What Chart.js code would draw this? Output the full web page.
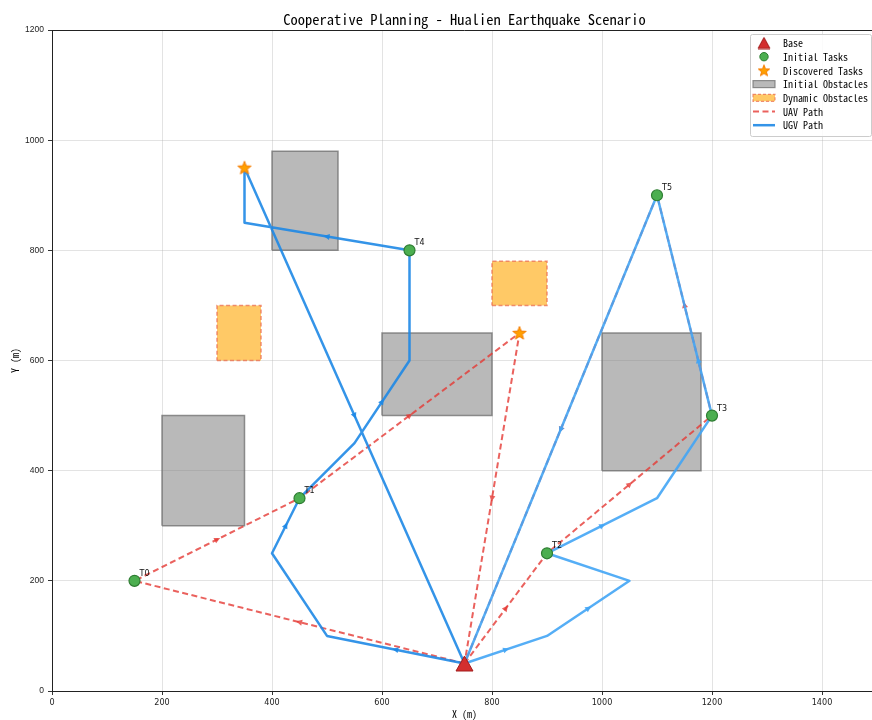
<!DOCTYPE html>
<html>
<head>
<meta charset="utf-8">
<script src="https://cdn.jsdelivr.net/npm/chart.js@4.4.1/dist/chart.umd.min.js"></script>
<style>
  html, body { margin: 0; padding: 0; overflow: hidden; background: #fff; }
  canvas { display: block; }
</style>
</head>
<body>
<!-- the plot frame runs a few pixels past the visible page edge -->
<canvas id="plan" width="877" height="720"></canvas>
<script>
// ---- scenario data (metres) ----
const X_MAX = 1500;
const Y_MAX = 1200;
const TICK_STEP = 200;

const BASE_X = [750];
const BASE_Y = [50];

const TASK_NAMES = ['T0', 'T1', 'T2', 'T3', 'T4', 'T5'];
const TASK_X = [150, 450, 900, 1200, 650, 1100];
const TASK_Y = [200, 350, 250, 500, 800, 900];

const FOUND_X = [350, 850];
const FOUND_Y = [950, 650];

// static obstacles: x range and y range
const OBST_X0 = [200, 400, 600, 1000];
const OBST_X1 = [350, 520, 800, 1180];
const OBST_Y0 = [300, 800, 500, 400];
const OBST_Y1 = [500, 980, 650, 650];

// obstacles that appeared during the mission
const DYN_X0 = [300, 800];
const DYN_X1 = [380, 900];
const DYN_Y0 = [600, 700];
const DYN_Y1 = [700, 780];

// aerial routes
const UAV1_X = [750, 150, 450, 850, 750];
const UAV1_Y = [50, 200, 350, 650, 50];
const UAV2_X = [750, 900, 1200, 1100, 750];
const UAV2_Y = [50, 250, 500, 900, 50];

// ground routes
const UGV1_X = [750, 500, 400, 450, 550, 650, 650, 350, 350, 750];
const UGV1_Y = [50, 100, 250, 350, 450, 600, 800, 850, 950, 50];
const UGV2_X = [750, 900, 1050, 900, 1100, 1200, 1100, 750];
const UGV2_Y = [50, 100, 200, 250, 350, 500, 900, 50];

// direction arrows: segment index and fraction along it
const UAV1_ARROW_SEG = [0, 1, 2, 3];
const UAV1_ARROW_T = [0.5, 0.5, 0.5, 0.5];
const UAV2_ARROW_SEG = [0, 1, 2, 3];
const UAV2_ARROW_T = [0.5, 0.5, 0.5, 0.5];
const UGV1_ARROW_SEG = [0, 2, 4, 6, 8];
const UGV1_ARROW_T = [0.5, 0.5, 0.5, 0.5, 0.5];
const UGV2_ARROW_SEG = [0, 1, 3, 5, 6];
const UGV2_ARROW_T = [0.5, 0.5, 0.5, 0.25, 0.5];

// ---- styles ----
const MONO = '"Noto Sans Mono CJK SC", "DejaVu Sans Mono", monospace';
const C_UAV = 'rgba(229, 57, 53, 0.8)';
const C_UGV1 = 'rgba(30, 136, 229, 0.9)';
const C_UGV2 = 'rgba(66, 165, 245, 0.9)';
const C_OBST_FILL = 'rgba(128, 128, 128, 0.55)';
const C_OBST_EDGE = 'rgba(110, 110, 110, 0.75)';
const C_DYN_FILL = 'rgba(255, 165, 0, 0.6)';
const C_DYN_EDGE = 'rgba(235, 110, 80, 0.75)';
const UAV_DASH = [6, 3.5];
const DYN_DASH = [4, 2.5];

function toPoints(xs, ys) { return xs.map((x, i) => ({ x: x, y: ys[i] })); }
function boxPoints(x0, x1, y0, y1) {
  return [{ x: x0, y: y0 }, { x: x1, y: y0 }, { x: x1, y: y1 }, { x: x0, y: y1 }, { x: x0, y: y0 }];
}

// marker images
function starImage(size, fill, stroke) {
  const c = document.createElement('canvas');
  c.width = c.height = size;
  const g = c.getContext('2d');
  const cx = size / 2, cy = size / 2 + 0.5, R = size / 2 - 1, r = R * 0.42;
  g.beginPath();
  for (let i = 0; i < 10; i++) {
    const a = -Math.PI / 2 + i * Math.PI / 5;
    const rr = i % 2 ? r : R;
    g.lineTo(cx + rr * Math.cos(a), cy + rr * Math.sin(a));
  }
  g.closePath();
  g.fillStyle = fill; g.fill();
  g.lineWidth = 1; g.strokeStyle = stroke; g.stroke();
  return c;
}
function triangleImage(w, h, fill, stroke) {
  const c = document.createElement('canvas');
  c.width = w + 2; c.height = h + 2;
  const g = c.getContext('2d');
  g.beginPath();
  g.moveTo(1 + w / 2, 1);
  g.lineTo(1 + w, 1 + h);
  g.lineTo(1, 1 + h);
  g.closePath();
  g.fillStyle = fill; g.fill();
  g.lineWidth = 1; g.strokeStyle = stroke; g.stroke();
  return c;
}
const STAR_IMG = starImage(16, '#ffa000', '#f57c00');
const TRI_IMG = triangleImage(17, 15, '#d32f2f', '#a31c1c');
const STAR_SMALL = starImage(14, '#ffa000', '#f57c00');
const TRI_SMALL = triangleImage(12, 11, '#d32f2f', '#a31c1c');

// ---- datasets ----
const datasets = [];
OBST_X0.forEach((x0, i) => {
  datasets.push({
    label: 'Initial Obstacles', kind: 'obst',
    data: boxPoints(x0, OBST_X1[i], OBST_Y0[i], OBST_Y1[i]),
    borderColor: C_OBST_EDGE, backgroundColor: C_OBST_FILL, borderWidth: 1.5,
    fill: 'shape', pointRadius: 0, order: 20
  });
});
DYN_X0.forEach((x0, i) => {
  datasets.push({
    label: 'Dynamic Obstacles', kind: 'dyn',
    data: boxPoints(x0, DYN_X1[i], DYN_Y0[i], DYN_Y1[i]),
    borderColor: C_DYN_EDGE, backgroundColor: C_DYN_FILL, borderWidth: 1.5,
    borderDash: DYN_DASH, fill: 'shape', pointRadius: 0, order: 19
  });
});
datasets.push({
  label: 'UAV Path', kind: 'uav', data: toPoints(UAV1_X, UAV1_Y),
  arrowSeg: UAV1_ARROW_SEG, arrowT: UAV1_ARROW_T,
  borderColor: C_UAV, borderWidth: 2, borderDash: UAV_DASH, pointRadius: 0, fill: false, order: 11
});
datasets.push({
  label: 'UAV Path', kind: 'uav2', data: toPoints(UAV2_X, UAV2_Y),
  arrowSeg: UAV2_ARROW_SEG, arrowT: UAV2_ARROW_T,
  borderColor: C_UAV, borderWidth: 2, borderDash: UAV_DASH, pointRadius: 0, fill: false, order: 10
});
datasets.push({
  label: 'UGV Path', kind: 'ugv', data: toPoints(UGV1_X, UGV1_Y),
  arrowSeg: UGV1_ARROW_SEG, arrowT: UGV1_ARROW_T,
  borderColor: C_UGV1, borderWidth: 2.5, pointRadius: 0, fill: false, order: 6,
  borderJoinStyle: 'round'
});
datasets.push({
  label: 'UGV Path', kind: 'ugv2', data: toPoints(UGV2_X, UGV2_Y),
  arrowSeg: UGV2_ARROW_SEG, arrowT: UGV2_ARROW_T,
  borderColor: C_UGV2, borderWidth: 2.5, pointRadius: 0, fill: false, order: 5,
  borderJoinStyle: 'round'
});
datasets.push({
  label: 'Base', kind: 'base', data: toPoints(BASE_X, BASE_Y), showLine: false,
  pointStyle: TRI_IMG, pointRadius: 9, order: 1
});
datasets.push({
  label: 'Initial Tasks', kind: 'task', data: toPoints(TASK_X, TASK_Y), showLine: false,
  pointStyle: 'circle', pointRadius: 5.5, pointBackgroundColor: '#4caf50',
  pointBorderColor: '#2e7d32', pointBorderWidth: 1.2, order: 2
});
datasets.push({
  label: 'Discovered Tasks', kind: 'found', data: toPoints(FOUND_X, FOUND_Y), showLine: false,
  pointStyle: STAR_IMG, pointRadius: 8, order: 2
});

// ---- plugins ----
const arrowPlugin = {
  id: 'pathArrows',
  afterDatasetDraw(chart, args) {
    const ds = chart.data.datasets[args.index];
    if (!ds.arrowSeg) return;
    const xs = chart.scales.x, ys = chart.scales.y, ctx = chart.ctx;
    ctx.save();
    ctx.beginPath();
    ctx.rect(chart.chartArea.left, chart.chartArea.top, chart.chartArea.width, chart.chartArea.height);
    ctx.clip();
    ctx.fillStyle = ds.borderColor;
    ds.arrowSeg.forEach((s, k) => {
      const a = ds.data[s], b = ds.data[s + 1], t = ds.arrowT[k];
      const ax = xs.getPixelForValue(a.x), ay = ys.getPixelForValue(a.y);
      const bx = xs.getPixelForValue(b.x), by = ys.getPixelForValue(b.y);
      const px = ax + (bx - ax) * t, py = ay + (by - ay) * t;
      const ang = Math.atan2(by - ay, bx - ax);
      ctx.save();
      ctx.translate(px, py);
      ctx.rotate(ang);
      ctx.beginPath();
      ctx.moveTo(3.5, 0);
      ctx.lineTo(-2.5, -3);
      ctx.lineTo(-2.5, 3);
      ctx.closePath();
      ctx.fill();
      ctx.restore();
    });
    ctx.restore();
  }
};

const decorPlugin = {
  id: 'decor',
  afterDraw(chart) {
    const ctx = chart.ctx, area = chart.chartArea;
    const xs = chart.scales.x, ys = chart.scales.y;
    ctx.save();
    // frame top
    ctx.strokeStyle = '#222';
    ctx.lineWidth = 1;
    ctx.beginPath();
    ctx.moveTo(area.left, Math.round(area.top) + 0.5);
    ctx.lineTo(area.right, Math.round(area.top) + 0.5);
    ctx.stroke();

    // task labels
    ctx.fillStyle = '#111';
    ctx.font = '8px "DejaVu Sans", sans-serif';
    ctx.textAlign = 'left';
    ctx.textBaseline = 'middle';
    TASK_NAMES.forEach((name, i) => {
      ctx.fillText(name, xs.getPixelForValue(TASK_X[i]) + 5, ys.getPixelForValue(TASK_Y[i]) - 7);
    });

    // title
    ctx.fillStyle = '#000';
    ctx.font = '14.5px ' + MONO;
    ctx.textAlign = 'center';
    ctx.fillText('Cooperative Planning - Hualien Earthquake Scenario', (area.left + area.right) / 2, 19);

    // legend
    const boxR = area.right - 6, boxT = area.top + 4, boxW = 121, boxH = 102;
    const boxL = boxR - boxW;
    ctx.fillStyle = 'rgba(255,255,255,0.85)';
    ctx.strokeStyle = '#cccccc';
    ctx.lineWidth = 1;
    ctx.beginPath();
    ctx.roundRect(boxL + 0.5, boxT + 0.5, boxW, boxH, 2);
    ctx.fill();
    ctx.stroke();

    const hx0 = boxL + 3, hx1 = boxL + 25, hxc = (hx0 + hx1) / 2, tx = boxL + 33;
    const rows = ['Base', 'Initial Tasks', 'Discovered Tasks', 'Initial Obstacles',
                  'Dynamic Obstacles', 'UAV Path', 'UGV Path'];
    rows.forEach((txt, i) => {
      const y = boxT + 9 + i * 13.7;
      ctx.save();
      if (i === 0) {
        ctx.drawImage(TRI_SMALL, hxc - TRI_SMALL.width / 2, y - TRI_SMALL.height / 2);
      } else if (i === 1) {
        ctx.beginPath();
        ctx.arc(hxc, y, 4.2, 0, Math.PI * 2);
        ctx.fillStyle = '#4caf50'; ctx.fill();
        ctx.strokeStyle = '#2e7d32'; ctx.lineWidth = 1; ctx.stroke();
      } else if (i === 2) {
        ctx.drawImage(STAR_SMALL, hxc - STAR_SMALL.width / 2, y - STAR_SMALL.height / 2);
      } else if (i === 3) {
        ctx.fillStyle = C_OBST_FILL; ctx.fillRect(hx0, y - 3.5, hx1 - hx0, 7);
        ctx.strokeStyle = C_OBST_EDGE; ctx.lineWidth = 1.2; ctx.strokeRect(hx0, y - 3.5, hx1 - hx0, 7);
      } else if (i === 4) {
        ctx.fillStyle = C_DYN_FILL; ctx.fillRect(hx0, y - 3.5, hx1 - hx0, 7);
        ctx.strokeStyle = C_DYN_EDGE; ctx.lineWidth = 1.2; ctx.setLineDash([3, 2]);
        ctx.strokeRect(hx0, y - 3.5, hx1 - hx0, 7);
      } else if (i === 5) {
        ctx.strokeStyle = C_UAV; ctx.lineWidth = 2; ctx.setLineDash([6, 3.5]);
        ctx.beginPath(); ctx.moveTo(hx0, y); ctx.lineTo(hx1, y); ctx.stroke();
      } else {
        ctx.strokeStyle = C_UGV1; ctx.lineWidth = 2.5;
        ctx.beginPath(); ctx.moveTo(hx0, y); ctx.lineTo(hx1, y); ctx.stroke();
      }
      ctx.restore();
      ctx.fillStyle = '#000';
      ctx.font = '10px ' + MONO;
      ctx.textAlign = 'left';
      ctx.textBaseline = 'middle';
      ctx.fillText(txt, tx, y + 0.5);
    });
    ctx.restore();
  }
};

new Chart(document.getElementById('plan'), {
  type: 'line',
  data: { datasets: datasets },
  plugins: [arrowPlugin, decorPlugin],
  options: {
    responsive: false,
    maintainAspectRatio: false,
    animation: false,
    events: [],
    layout: { autoPadding: false, padding: { top: 30, right: 0, left: 0, bottom: 0 } },
    plugins: {
      legend: { display: false },
      tooltip: { enabled: false },
      title: { display: false }
    },
    elements: { line: { tension: 0 } },
    scales: {
      x: {
        type: 'linear', min: 0, max: X_MAX,
        afterFit: s => { s.height = 29; s.paddingLeft = 0; s.paddingRight = 0; },
        ticks: {
          stepSize: TICK_STEP, includeBounds: false, padding: 2, color: '#222',
          callback: v => String(v),
          font: { family: '"Liberation Sans Narrow", "DejaVu Sans Condensed", sans-serif', size: 9 }
        },
        grid: { color: 'rgba(176,176,176,0.35)', tickColor: '#333', tickLength: 4, lineWidth: 1 },
        border: { display: true, color: '#222', width: 1 },
        title: {
          display: true, text: 'X (m)', color: '#000', padding: { top: 0, bottom: 0 },
          font: { family: MONO, size: 10 }
        }
      },
      y: {
        type: 'linear', min: 0, max: Y_MAX,
        afterFit: s => { s.width = 52; s.paddingTop = 0; s.paddingBottom = 0; },
        ticks: {
          stepSize: TICK_STEP, padding: 4, color: '#222',
          callback: v => String(v),
          font: { family: '"Liberation Sans", Arial, sans-serif', size: 8.5 }
        },
        grid: { color: 'rgba(176,176,176,0.35)', tickColor: '#333', tickLength: 4, lineWidth: 1 },
        border: { display: true, color: '#222', width: 1 },
        title: {
          display: true, text: 'Y (m)', color: '#000', padding: { top: 9, bottom: 0 },
          font: { family: MONO, size: 10 }
        }
      }
    }
  }
});
</script>
</body>
</html>
